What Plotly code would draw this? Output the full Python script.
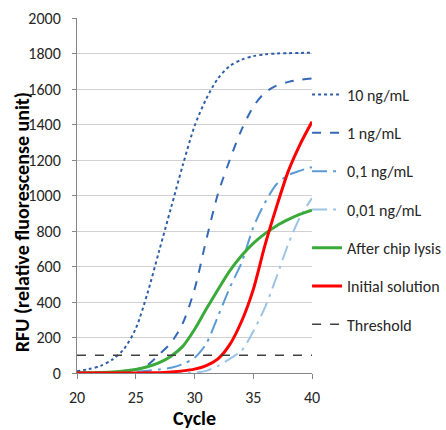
import plotly.graph_objects as go

cycles = list(range(20, 41))

rfu_10 = [10, 22, 40, 75, 135, 250, 450, 690, 930, 1170, 1390, 1545, 1660, 1730, 1765, 1785, 1795, 1800, 1802, 1803, 1805]
rfu_1 = [3, 4, 5, 6, 10, 20, 45, 105, 170, 280, 470, 750, 1010, 1200, 1370, 1500, 1580, 1620, 1640, 1652, 1660]
rfu_01 = [0, 1, 2, 3, 5, 8, 13, 20, 30, 50, 85, 165, 320, 480, 620, 820, 960, 1065, 1115, 1140, 1160]
rfu_001 = [0, 0, 0, 0, 0, 0, 0, 0, 0, 0, 2, 12, 40, 80, 125, 234, 370, 545, 730, 880, 985]
rfu_chip = [0, 1, 3, 6, 12, 20, 35, 58, 95, 150, 245, 360, 470, 575, 660, 730, 785, 830, 865, 895, 918]
rfu_init = [0, 0, 0, 0, 0, 0, 1, 2, 6, 12, 22, 42, 80, 160, 290, 470, 720, 940, 1140, 1290, 1415]
threshold = 100

FONT = "Calibri, Carlito, Lato, sans-serif"

series = [
    ("10 ng/mL", rfu_10, "#2F5FA6", "dot", 2),
    ("1 ng/mL", rfu_1, "#3568B8", "dash", 2),
    ("0,1 ng/mL", rfu_01, "#5B9BD5", "longdashdot", 2),
    ("0,01 ng/mL", rfu_001, "#9DC3E6", "longdashdot", 2),
    ("After chip lysis", rfu_chip, "#3AAA3A", "solid", 3),
    ("Initial solution", rfu_init, "#FF0000", "solid", 3),
]

fig = go.Figure()
for i, (name, vals, col, dash, w) in enumerate(series):
    fig.add_trace(go.Scatter(x=cycles, y=vals, mode='lines', name=name,
                             legendgroup=str(i),
                             line=dict(color=col, dash=dash, width=w, shape='spline', smoothing=0.8)))

fig.add_trace(go.Scatter(x=[cycles[0], cycles[-1]], y=[threshold, threshold],
                         mode='lines', name='Threshold', legendgroup='th',
                         line=dict(color='#404040', dash='dash', width=1.5)))

fig.update_layout(
    width=446, height=430,
    margin=dict(l=77, r=134, t=18, b=57, autoexpand=False),
    plot_bgcolor='white', paper_bgcolor='white',
    font=dict(family=FONT, size=16, color='#262626'),
    legend=dict(x=0.979, y=0.832, xanchor='left', yanchor='top',
                font=dict(size=16, color='#262626'),
                tracegroupgap=14.5, itemwidth=30, bgcolor='rgba(0,0,0,0)'),
)
# y title sits a bit below the plot centre in the original, so use an annotation
fig.add_annotation(text='<b>RFU (relative fluorescense unit)</b>', textangle=-90,
                   xref='paper', yref='paper', x=-0.234, y=0.425,
                   xanchor='center', yanchor='middle', showarrow=False,
                   font=dict(size=20, color='black'))
fig.update_xaxes(range=[20, 40], dtick=5, showgrid=False, zeroline=False,
                 showline=True, linecolor='#868686', linewidth=1,
                 ticks='outside', ticklen=5, tickcolor='#868686',
                 tickfont=dict(size=16), ticklabelstandoff=5,
                 title=dict(text='<b>Cycle</b>', font=dict(size=20, color='black'), standoff=5))
fig.update_yaxes(range=[0, 2000], dtick=200, showgrid=True, gridcolor='#D0D0D0',
                 zeroline=False, showline=True, linecolor='#868686', linewidth=1,
                 ticks='outside', ticklen=4, tickcolor='#868686',
                 tickfont=dict(size=16), ticklabelstandoff=8)

fig.write_html("out.html", config={'displayModeBar': False},
               post_script="document.body.style.margin='0';document.body.style.overflow='hidden';")
